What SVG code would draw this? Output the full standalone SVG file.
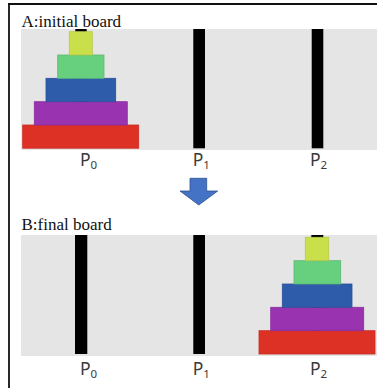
<svg xmlns="http://www.w3.org/2000/svg" width="377" height="388" viewBox="0 0 377 388">
  <style>
    .board { fill: #e5e5e5; }
    .peg { fill: #000; }
    .title { font-family: "Liberation Serif", "Times New Roman", serif; font-size: 17px; fill: #111; }
    .plabel { font-family: "Noto Sans", "DejaVu Sans", sans-serif; font-size: 17.5px; fill: #3a3a3a; }
    .sub { font-size: 11.5px; }
    .d1 { fill: #cae04a; stroke: #b7c94a; stroke-width: 0.8; }
    .d2 { fill: #66d07f; stroke: #5cb872; stroke-width: 0.8; }
    .d3 { fill: #2e5baa; stroke: #2a5199; stroke-width: 0.8; }
    .d4 { fill: #9933b0; stroke: #8a2ea0; stroke-width: 0.8; }
    .d5 { fill: #de3126; stroke: #c92c22; stroke-width: 0.8; }
  </style>

  <!-- frame: top and left rules -->
  <g id="frame" fill="none" stroke="#111" stroke-width="1.8">
    <line x1="8" y1="4" x2="377" y2="4"/>
    <line x1="9" y1="4" x2="9" y2="388"/>
  </g>

  <!-- panel A: initial board -->
  <g id="boardA">
    <text class="title" x="21.5" y="27">A:initial board</text>
    <rect class="board" x="21" y="29" width="356" height="121"/>
    <rect class="peg" x="75.3" y="29" width="11.4" height="119"/>
    <rect class="peg" x="193.3" y="29" width="11.7" height="119.3"/>
    <rect class="peg" x="311.7" y="29" width="11.6" height="119.3"/>
    <g id="disksA">
      <rect class="d5" x="22.7" y="125" width="116" height="23.2"/>
      <rect class="d4" x="34.3" y="101.7" width="93" height="23.3"/>
      <rect class="d3" x="46" y="78.3" width="69.7" height="23.4"/>
      <rect class="d2" x="57.7" y="55" width="46.3" height="23.3"/>
      <rect class="d1" x="69.3" y="31.7" width="23" height="23.3"/>
    </g>
    <text class="plabel" x="80" y="165.7">P<tspan class="sub" dy="3.3">0</tspan></text>
    <text class="plabel" x="192.7" y="165.7">P<tspan class="sub" dy="3.3">1</tspan></text>
    <text class="plabel" x="310" y="165.7">P<tspan class="sub" dy="3.3">2</tspan></text>
  </g>

  <!-- transition arrow -->
  <g id="arrow">
    <path d="M190,178.3 H206.7 V191 H217.7 L198.8,205 L180,191 H190 Z" fill="#4472c4" stroke="#2f528f" stroke-width="0.8"/>
  </g>

  <!-- panel B: final board -->
  <g id="boardB">
    <text class="title" x="21.5" y="230">B:final board</text>
    <rect class="board" x="21" y="235" width="356" height="121"/>
    <rect class="peg" x="75" y="235" width="12.3" height="119"/>
    <rect class="peg" x="193.3" y="235" width="11.7" height="119"/>
    <rect class="peg" x="311.3" y="235" width="12" height="119"/>
    <g id="disksB">
      <rect class="d5" x="259" y="330.7" width="116" height="23.3"/>
      <rect class="d4" x="270.7" y="307.3" width="93" height="23.4"/>
      <rect class="d3" x="282.3" y="284" width="69.7" height="23.3"/>
      <rect class="d2" x="294" y="260.7" width="46.7" height="23.3"/>
      <rect class="d1" x="305.3" y="237.3" width="23.4" height="23.4"/>
    </g>
    <text class="plabel" x="80" y="375">P<tspan class="sub" dy="3.3">0</tspan></text>
    <text class="plabel" x="192.7" y="375">P<tspan class="sub" dy="3.3">1</tspan></text>
    <text class="plabel" x="310" y="375">P<tspan class="sub" dy="3.3">2</tspan></text>
  </g>
</svg>
